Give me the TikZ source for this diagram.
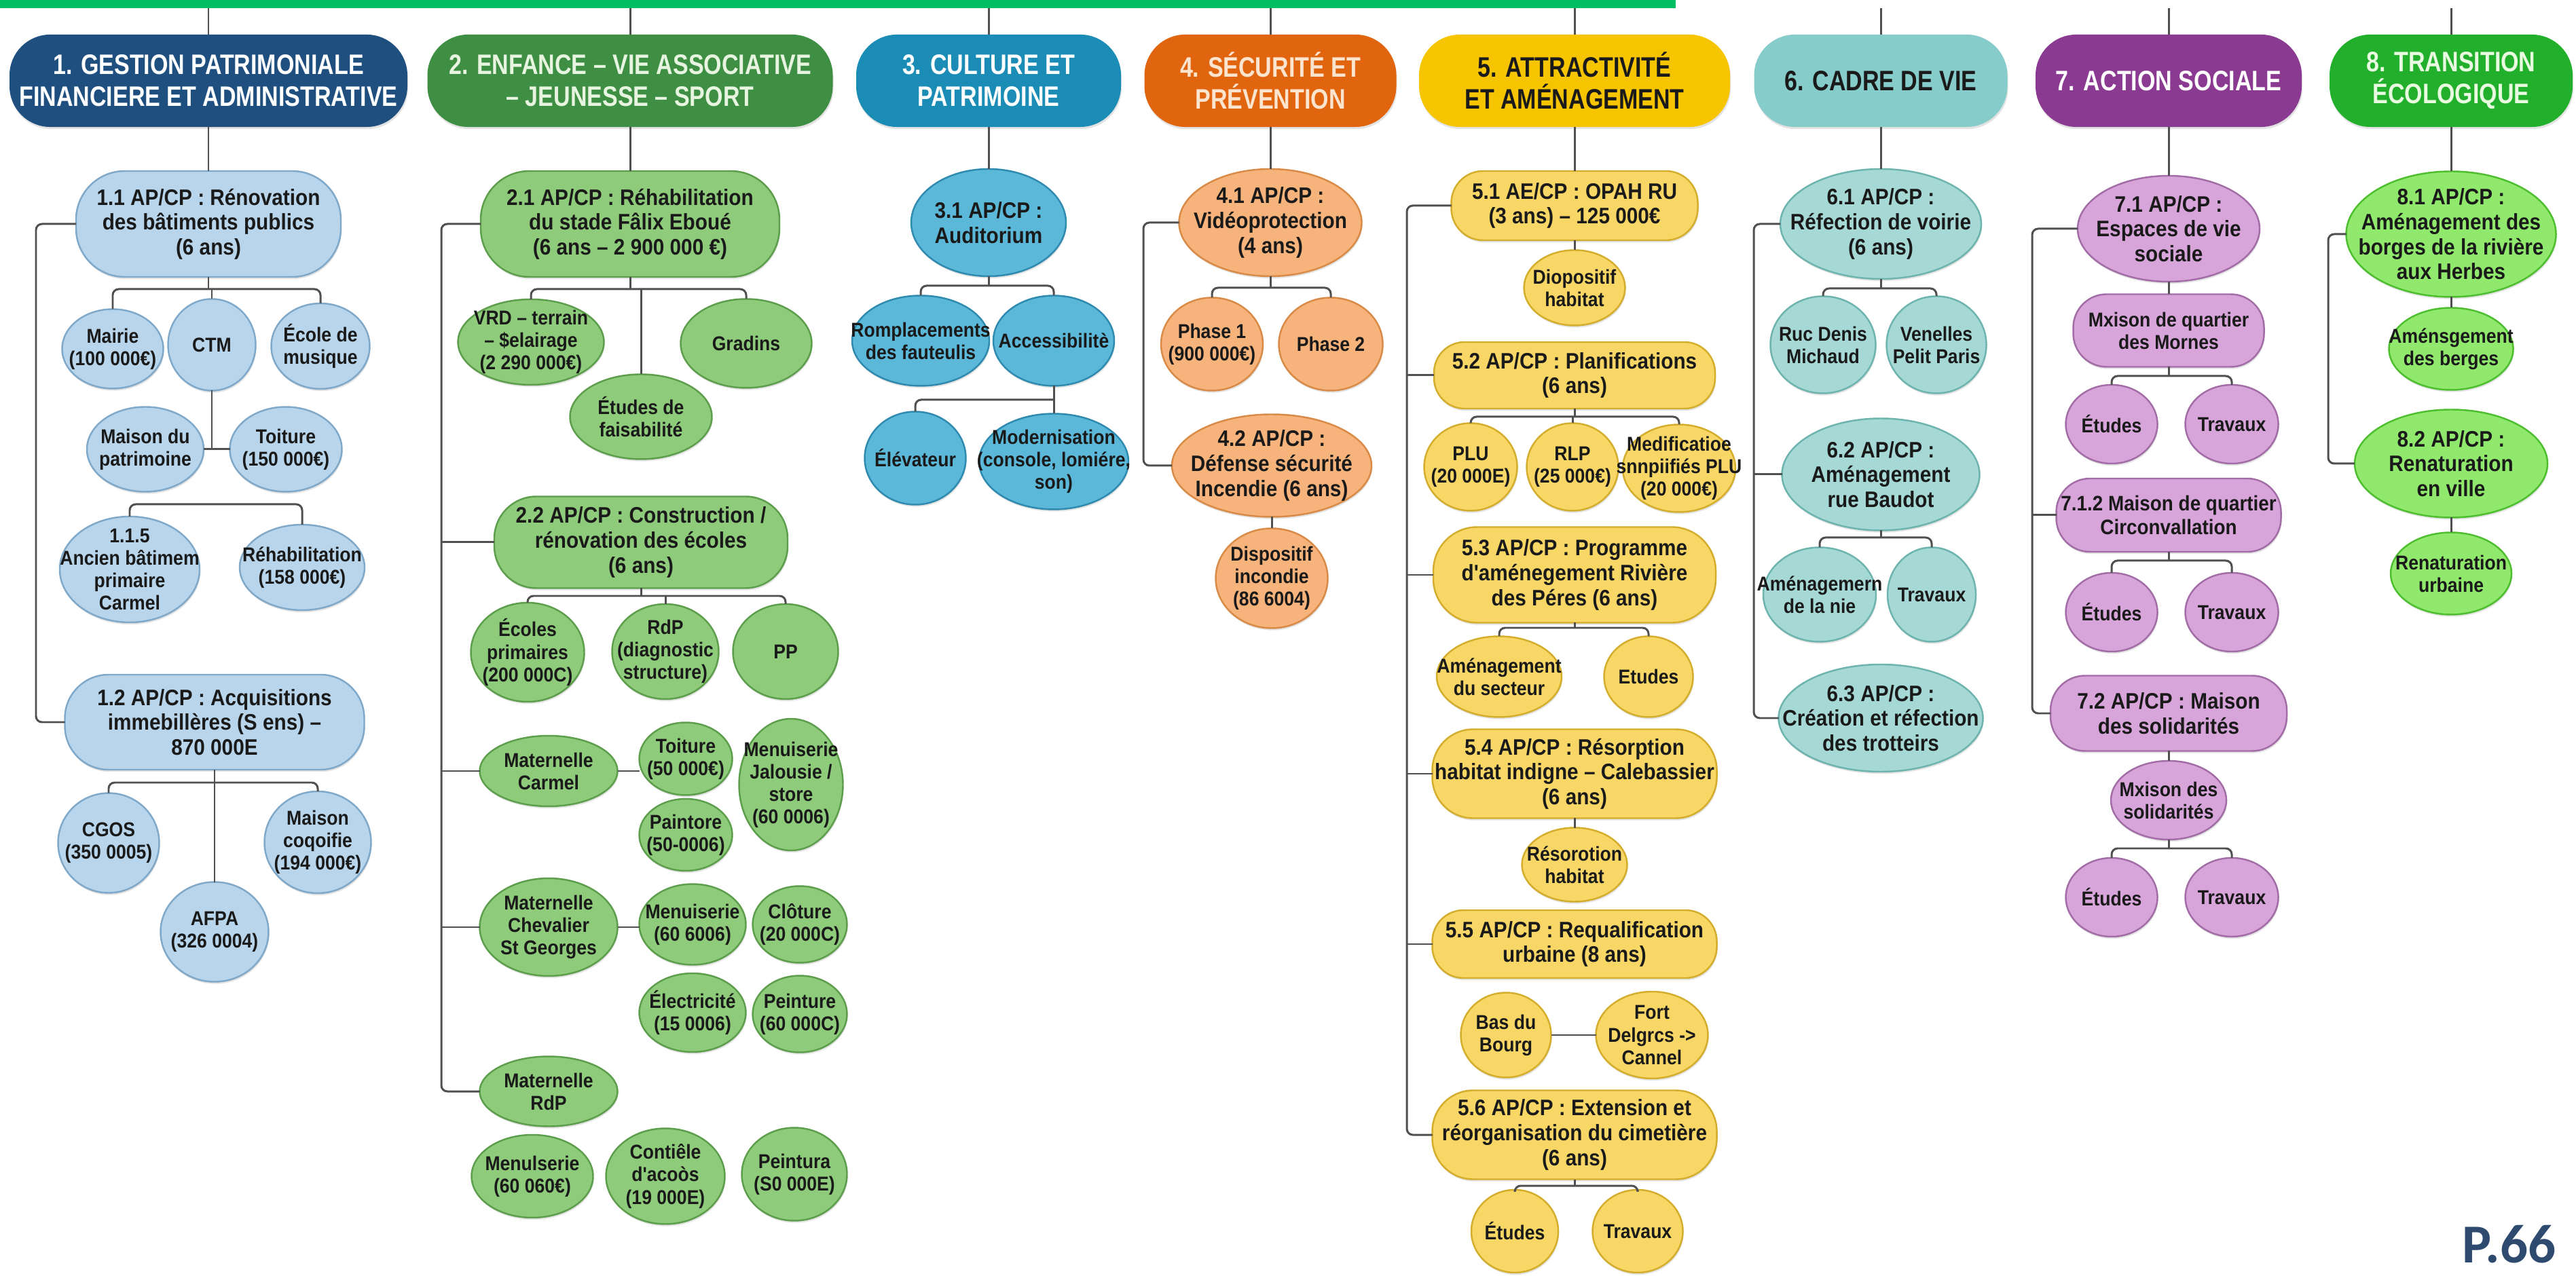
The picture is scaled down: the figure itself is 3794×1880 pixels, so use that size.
\documentclass[tikz,border=0pt]{standalone}
\usepackage{fontspec}
\setmainfont{Liberation Sans}
\newfontfamily\nf{Liberation Sans}[FakeStretch=0.9]
\newfontfamily\hf{Liberation Sans}[FakeStretch=0.82]
\newfontfamily\pf{Carlito}
\usetikzlibrary{shapes.geometric,shadows}
\definecolor{gbar}{HTML}{00BF63}
\definecolor{lineC}{HTML}{505050}
\definecolor{txt}{HTML}{1A1A1A}
\definecolor{pcol}{HTML}{2E4A6E}
\definecolor{c1f}{HTML}{B8D5EB}\definecolor{c1d}{HTML}{7FA8C9}
\definecolor{c2f}{HTML}{8ECB7B}\definecolor{c2d}{HTML}{5C9E4C}
\definecolor{c3f}{HTML}{5CB8D8}\definecolor{c3d}{HTML}{2E8AAE}
\definecolor{c4f}{HTML}{F6B37B}\definecolor{c4d}{HTML}{D98A47}
\definecolor{c5f}{HTML}{F8D766}\definecolor{c5d}{HTML}{D3AD2B}
\definecolor{c6f}{HTML}{A6D9D6}\definecolor{c6d}{HTML}{6DB3AE}
\definecolor{c7f}{HTML}{D8A5DB}\definecolor{c7d}{HTML}{A26DA6}
\definecolor{c8f}{HTML}{90E86C}\definecolor{c8d}{HTML}{4DBE2E}
\definecolor{h1c}{HTML}{1E4F7F}\definecolor{h2c}{HTML}{3E8E43}
\definecolor{h3c}{HTML}{1A8CB6}\definecolor{h4c}{HTML}{E1650E}
\definecolor{h5c}{HTML}{F6C500}\definecolor{h6c}{HTML}{86CCCA}
\definecolor{h7c}{HTML}{8B3A91}\definecolor{h8c}{HTML}{22B02C}
\definecolor{t2c}{HTML}{E6F4E0}\definecolor{t4c}{HTML}{FCE4CF}
\definecolor{t8c}{HTML}{E8FBE0}
\tikzset{
 conn/.style={draw=lineC,line width=0.85pt,rounded corners=2.5pt},
 shad/.style={drop shadow={opacity=0.22,shadow xshift=0.3pt,shadow yshift=-0.9pt}},
 nbox/.style={line width=0.7pt,shad,inner sep=0pt,outer sep=0pt},
 hdr/.style={rectangle,fill=#1,draw=none,shad,inner sep=0pt,outer sep=0pt,minimum height=1.36cm,rounded corners=0.6cm},
 hdrtxt/.style={font=\hf\bfseries\fontsize{11.8}{13.4}\selectfont,align=center,text=#1,inner sep=0pt},
 bigtxt/.style={font=\nf\bfseries\fontsize{9.4}{10.4}\selectfont,align=center,text=txt,inner sep=0pt},
 midtxt/.style={font=\nf\bfseries\fontsize{8.8}{10}\selectfont,align=center,text=txt,inner sep=0pt},
 smalltxt/.style={font=\nf\bfseries\fontsize{8.4}{9.4}\selectfont,align=center,text=txt,inner sep=0pt},
 k1/.style={fill=c1f,draw=c1d},k2/.style={fill=c2f,draw=c2d},
 k3/.style={fill=c3f,draw=c3d},k4/.style={fill=c4f,draw=c4d},
 k5/.style={fill=c5f,draw=c5d},k6/.style={fill=c6f,draw=c6d},
 k7/.style={fill=c7f,draw=c7d},k8/.style={fill=c8f,draw=c8d},
}
\newcommand\mkHD[6]{\node[hdr=#4,minimum width=#3*0.01cm] (#1) at (#2,119) {};
  \node[hdrtxt=#5] (#1t) at (#1) {#6};}
\newcommand\mkPL[7]{\node[nbox,#6,rectangle,minimum width=#4*0.01cm,minimum height=#5*0.01cm,rounded corners=#5*0.0046cm] (#1) at (#2,#3) {};
  \node[bigtxt] (#1t) at (#1) {#7};}
\newcommand\mkPM[7]{\node[nbox,#6,rectangle,minimum width=#4*0.01cm,minimum height=#5*0.01cm,rounded corners=#5*0.0046cm] (#1) at (#2,#3) {};
  \node[midtxt] (#1t) at (#1) {#7};}
\newcommand\mkPS[7]{\node[nbox,#6,rectangle,minimum width=#4*0.01cm,minimum height=#5*0.01cm,rounded corners=#5*0.0046cm] (#1) at (#2,#3) {};
  \node[smalltxt] (#1t) at (#1) {#7};}
\newcommand\mkEB[7]{\node[nbox,#6,ellipse,minimum width=#4*0.01cm,minimum height=#5*0.01cm] (#1) at (#2,#3) {};
  \node[bigtxt] (#1t) at (#1) {#7};}
\newcommand\mkES[7]{\node[nbox,#6,ellipse,minimum width=#4*0.01cm,minimum height=#5*0.01cm] (#1) at (#2,#3) {};
  \node[smalltxt] (#1t) at (#1) {#7};}
\begin{document}
\begin{tikzpicture}[x=0.01cm,y=-0.01cm]
\useasboundingbox (0,0) rectangle (3794,1880);
\clip (0,0) rectangle (3794,1880);
\fill[white] (0,0) rectangle (3794,1880);
\fill[gbar] (0,0) rectangle (2468,12);

% ---------- headers
\mkHD{h1}{307}{586}{h1c}{white}{1. GESTION PATRIMONIALE\\FINANCIERE ET ADMINISTRATIVE}
\mkHD{h2}{928}{597}{h2c}{t2c}{2. ENFANCE – VIE ASSOCIATIVE\\– JEUNESSE – SPORT}
\mkHD{h3}{1456}{390}{h3c}{white}{3. CULTURE ET\\PATRIMOINE}
\mkHD{h4}{1871}{371}{h4c}{t4c}{4. SÉCURITÉ ET\\PRÉVENTION}
\mkHD{h5}{2319}{458}{h5c}{txt}{5. ATTRACTIVITÉ\\ET AMÉNAGEMENT}
\mkHD{h6}{2770}{373}{h6c}{txt}{6. CADRE DE VIE}
\mkHD{h7}{3194}{392}{h7c}{white}{7. ACTION SOCIALE}
\mkHD{h8}{3610}{358}{h8c}{t8c}{8. TRANSITION\\ÉCOLOGIQUE}

% ---------- column 1
\mkPL{n11}{307}{330}{390}{156}{k1}{1.1 AP/CP : Rénovation\\des bâtiments publics\\(6 ans)}
\mkES{mairie}{166}{514}{149}{117}{k1}{Mairie\\(100 000€)}
\mkES{ctm}{312}{508}{129}{135}{k1}{CTM}
\mkES{ecole}{472}{510}{145}{126}{k1}{École de\\musique}
\mkES{maisonpat}{214}{662}{172}{125}{k1}{Maison du\\patrimoine}
\mkES{toit1}{421}{662}{165}{125}{k1}{Toiture\\(150 000€)}
\mkES{anc}{191}{839}{206}{156}{k1}{1.1.5\\Ancien bâtimem\\primaire\\Carmel}
\mkES{rehab}{445}{836}{184}{126}{k1}{Réhabilitation\\(158 000€)}
\mkPL{n12}{316}{1064}{441}{140}{k1}{1.2 AP/CP : Acquisitions\\immebillères (S ens) –\\870 000E}
\mkES{cgos}{160}{1242}{149}{147}{k1}{CGOS\\(350 0005)}
\mkES{afpa}{316}{1373}{159}{147}{k1}{AFPA\\(326 0004)}
\mkES{maisonc}{468}{1241}{157}{150}{k1}{Maison\\coqoifie\\(194 000€)}

% ---------- column 2
\mkPL{n21}{928}{330}{440}{156}{k2}{2.1 AP/CP : Réhabilitation\\du stade Fâlix Eboué\\(6 ans – 2 900 000 €)}
\mkES{vrd}{782}{504}{215}{126}{k2}{VRD – terrain\\– \$elairage\\(2 290 000€)}
\mkES{gradins}{1099}{506}{193}{131}{k2}{Gradins}
\mkES{etudesf}{944}{614}{209}{125}{k2}{Études de\\faisabilité}
\mkPL{n22}{944}{799}{432}{135}{k2}{2.2 AP/CP : Construction /\\rénovation des écoles\\(6 ans)}
\mkES{ecoles}{777}{961}{167}{146}{k2}{Écoles\\primaires\\(200 000C)}
\mkES{rdp}{980}{960}{157}{140}{k2}{RdP\\(diagnostic\\structure)}
\mkES{pp}{1157}{960}{155}{140}{k2}{PP}
\mkES{carmel}{808}{1136}{203}{104}{k2}{Maternelle\\Carmel}
\mkES{toit2}{1010}{1118}{137}{107}{k2}{Toiture\\(50 000€)}
\mkES{menjal}{1165}{1156}{153}{194}{k2}{Menuiserie\\Jalousie /\\store\\(60 0006)}
\mkES{paint}{1010}{1230}{137}{106}{k2}{Paintore\\(50-0006)}
\mkES{chev}{808}{1366}{203}{144}{k2}{Maternelle\\Chevalier\\St Georges}
\mkES{men2}{1020}{1362}{157}{119}{k2}{Menuiserie\\(60 6006)}
\mkES{clot}{1178}{1362}{139}{113}{k2}{Clôture\\(20 000C)}
\mkES{elec}{1020}{1492}{157}{116}{k2}{Électricité\\(15 0006)}
\mkES{peint}{1178}{1494}{139}{113}{k2}{Peinture\\(60 000C)}
\mkES{matrdp}{808}{1608}{203}{103}{k2}{Maternelle\\RdP}
\mkES{menu3}{784}{1733}{179}{122}{k2}{Menulserie\\(60 060€)}
\mkES{cont}{980}{1733}{175}{141}{k2}{Contiêle\\d'acoòs\\(19 000E)}
\mkES{peint2}{1170}{1730}{155}{137}{k2}{Peintura\\(S0 000E)}

% ---------- column 3
\mkEB{n31}{1456}{328}{228}{158}{k3}{3.1 AP/CP :\\Auditorium}
\mkES{romp}{1356}{502}{202}{133}{k3}{Romplacements\\des fauteulis}
\mkES{access}{1552}{502}{178}{133}{k3}{Accessibilitè}
\mkES{elev}{1348}{675}{149}{137}{k3}{Élévateur}
\mkES{modern}{1552}{680}{220}{141}{k3}{Modernisation\\(console, lomiére,\\son)}

% ---------- column 4
\mkEB{n41}{1871}{328}{269}{158}{k4}{4.1 AP/CP :\\Vidéoprotection\\(4 ans)}
\mkES{ph1}{1785}{507}{150}{137}{k4}{Phase 1\\(900 000€)}
\mkES{ph2}{1960}{507}{153}{137}{k4}{Phase 2}
\mkEB{n42}{1873}{686}{294}{151}{k4}{4.2 AP/CP :\\Défense sécurité\\Incendie (6 ans)}
\mkES{disp}{1873}{852}{165}{147}{k4}{Dispositif\\incondie\\(86 6004)}

% ---------- column 5
\mkPL{n51}{2319}{303}{363}{102}{k5}{5.1 AE/CP : OPAH RU\\(3 ans) – 125 000€}
\mkES{diop}{2319}{424}{149}{111}{k5}{Diopositif\\habitat}
\mkPL{n52}{2319}{553}{414}{98}{k5}{5.2 AP/CP : Planifications\\(6 ans)}
\mkES{plu}{2166}{688}{137}{129}{k5}{PLU\\(20 000E)}
\mkES{rlp}{2316}{688}{135}{129}{k5}{RLP\\(25 000€)}
\mkES{medif}{2473}{690}{166}{129}{k5}{Medificatioe\\snnpiifiés PLU\\(20 000€)}
\mkPL{n53}{2319}{847}{416}{141}{k5}{5.3 AP/CP : Programme\\d'aménegement Rivière\\des Péres (6 ans)}
\mkES{amsec}{2208}{997}{184}{119}{k5}{Aménagement\\du secteur}
\mkES{etud5}{2428}{997}{131}{119}{k5}{Etudes}
\mkPL{n54}{2319}{1140}{419}{131}{k5}{5.4 AP/CP : Résorption\\habitat indigne – Calebassier\\(6 ans)}
\mkES{resor}{2319}{1274}{155}{109}{k5}{Résorotion\\habitat}
\mkPL{n55}{2319}{1391}{419}{100}{k5}{5.5 AP/CP : Requalification\\urbaine (8 ans)}
\mkES{bas}{2218}{1525}{133}{125}{k5}{Bas du\\Bourg}
\mkES{fort}{2433}{1525}{165}{128}{k5}{Fort\\Delgrcs ->\\Cannel}
\mkPL{n56}{2319}{1672}{419}{131}{k5}{5.6 AP/CP : Extension et\\réorganisation du cimetière\\(6 ans)}
\mkES{etud56}{2231}{1814}{128}{122}{k5}{Études}
\mkES{trav56}{2412}{1814}{133}{122}{k5}{Travaux}

% ---------- column 6
\mkEB{n61}{2770}{330}{296}{162}{k6}{6.1 AP/CP :\\Réfection de voirie\\(6 ans)}
\mkES{ruc}{2685}{508}{155}{143}{k6}{Ruc Denis\\Michaud}
\mkES{ven}{2852}{508}{147}{143}{k6}{Venelles\\Pelit Paris}
\mkEB{n62}{2770}{699}{291}{165}{k6}{6.2 AP/CP :\\Aménagement\\rue Baudot}
\mkES{amr}{2680}{876}{166}{139}{k6}{Aménagemern\\de la nie}
\mkES{trav6}{2845}{876}{130}{139}{k6}{Travaux}
\mkEB{n63}{2770}{1058}{301}{158}{k6}{6.3 AP/CP :\\Création et réfection\\des trotteirs}

% ---------- column 7
\mkEB{n71}{3194}{337}{268}{156}{k7}{7.1 AP/CP :\\Espaces de vie\\sociale}
\mkPS{mxm}{3194}{487}{281}{107}{k7}{Mxison de quartier\\des Mornes}
\mkES{et71}{3110}{625}{135}{116}{k7}{Études}
\mkES{tr71}{3287}{625}{137}{116}{k7}{Travaux}
\mkPM{n712}{3194}{759}{331}{108}{k7}{7.1.2 Maison de quartier\\Circonvallation}
\mkES{et72}{3110}{902}{135}{116}{k7}{Études}
\mkES{tr72}{3287}{902}{137}{116}{k7}{Travaux}
\mkPL{n72}{3194}{1051}{348}{111}{k7}{7.2 AP/CP : Maison\\des solidarités}
\mkES{mxs}{3194}{1179}{170}{116}{k7}{Mxison des\\solidarités}
\mkES{et73}{3110}{1322}{135}{116}{k7}{Études}
\mkES{tr73}{3287}{1322}{137}{116}{k7}{Travaux}

% ---------- column 8
\mkEB{n81}{3610}{345}{309}{185}{k8}{8.1 AP/CP :\\Aménagement des\\borges de la rivière\\aux Herbes}
\mkES{amb}{3610}{514}{183}{121}{k8}{Aménsgement\\des berges}
\mkEB{n82}{3610}{683}{284}{159}{k8}{8.2 AP/CP :\\Renaturation\\en ville}
\mkES{ren}{3610}{845}{178}{121}{k8}{Renaturation\\urbaine}

% ---------- page number
\node[font=\pf\bfseries\fontsize{23}{23}\selectfont,text=pcol,anchor=base west,inner sep=0pt] (pg) at (3626,1860) {P.66};

% ---------- connectors
\coordinate (t1) at (307,12); \coordinate (t2) at (928,12);
\coordinate (t3) at (1456,12); \coordinate (t4) at (1871,12);
\coordinate (t5) at (2319,12); \coordinate (t6) at (2770,12);
\coordinate (t7) at (3194,12); \coordinate (t8) at (3610,12);
\foreach \i in {1,...,8} {\draw[conn] (t\i) -- (h\i.north);}

% col 1
\draw[conn] (h1.south) -- (n11.north);
\coordinate (b11) at (307,426);
\draw[conn] (n11.south) -- (b11);
\draw[conn] (mairie.north) |- (b11) -| (ecole.north);
\draw[conn] (ctm.north) -- (ctm.north |- b11);
\draw[conn] (ctm.south) -- (ctm.south |- maisonpat.east);
\draw[conn] (maisonpat.east) -- (toit1.west);
\coordinate (b12) at (318,743);
\draw[conn] (anc.north) |- (b12) -| (rehab.north);
\coordinate (lb1) at (53,700);
\draw[conn] (n11.west) -| (lb1) |- (n12.west);
\coordinate (b13) at (316,1153);
\draw[conn] (n12.south) -- (afpa.north);
\draw[conn] (cgos.north) |- (b13) -| (maisonc.north);

% col 2
\draw[conn] (h2.south) -- (n21.north);
\coordinate (b21) at (928,426);
\draw[conn] (n21.south) -- (b21);
\draw[conn] (vrd.north) |- (b21) -| (gradins.north);
\draw[conn] (etudesf.north) -- (etudesf.north |- b21);
\coordinate (lb2) at (650,900);
\draw[conn] (n21.west) -| (lb2) |- (matrdp.west);
\draw[conn] (n22.west) -- (n22.west -| lb2);
\draw[conn] (carmel.west) -- (carmel.west -| lb2);
\draw[conn] (chev.west) -- (chev.west -| lb2);
\coordinate (b22) at (944,878);
\draw[conn] (n22.south) -- (b22);
\draw[conn] (ecoles.north) |- (b22) -| (pp.north);
\draw[conn] (rdp.north) -- (rdp.north |- b22);
\draw[conn] (carmel.east) -- (carmel.east -| toit2.west);
\draw[conn] (chev.east) -- (chev.east -| men2.west);

% col 3
\draw[conn] (h3.south) -- (n31.north);
\coordinate (b31) at (1456,421);
\draw[conn] (n31.south) -- (b31);
\draw[conn] (romp.north) |- (b31) -| (access.north);
\draw[conn] (access.south) -- (modern.north);
\coordinate (b32) at (1552,589);
\draw[conn] (elev.north) |- (b32);

% col 4
\draw[conn] (h4.south) -- (n41.north);
\coordinate (b41) at (1871,424);
\draw[conn] (n41.south) -- (b41);
\draw[conn] (ph1.north) |- (b41) -| (ph2.north);
\coordinate (lb4) at (1684,500);
\draw[conn] (n41.west) -| (lb4) |- (n42.west);
\draw[conn] (n42.south) -- (disp.north);

% col 5
\draw[conn] (h5.south) -- (n51.north);
\draw[conn] (n51.south) -- (diop.north);
\coordinate (b52) at (2319,614);
\draw[conn] (n52.south) -- (b52);
\draw[conn] (plu.north) |- (b52) -| (medif.north);
\draw[conn] (rlp.north) -- (rlp.north |- b52);
\coordinate (b53) at (2319,925);
\draw[conn] (n53.south) -- (b53);
\draw[conn] (amsec.north) |- (b53) -| (etud5.north);
\draw[conn] (n54.south) -- (resor.north);
\draw[conn] (bas.east) -- (fort.west);
\coordinate (b56) at (2319,1747);
\draw[conn] (n56.south) -- (b56);
\draw[conn] (etud56.north) |- (b56) -| (trav56.north);
\coordinate (lb5) at (2072,1000);
\draw[conn] (n51.west) -| (lb5) |- (n56.west);
\draw[conn] (n52.west) -- (n52.west -| lb5);
\draw[conn] (n53.west) -- (n53.west -| lb5);
\draw[conn] (n54.west) -- (n54.west -| lb5);
\draw[conn] (n55.west) -- (n55.west -| lb5);

% col 6
\draw[conn] (h6.south) -- (n61.north);
\coordinate (b61) at (2770,425);
\draw[conn] (n61.south) -- (b61);
\draw[conn] (ruc.north) |- (b61) -| (ven.north);
\coordinate (b62) at (2770,792);
\draw[conn] (n62.south) -- (b62);
\draw[conn] (amr.north) |- (b62) -| (trav6.north);
\coordinate (lb6) at (2583,700);
\draw[conn] (n61.west) -| (lb6) |- (n63.west);
\draw[conn] (n62.west) -- (n62.west -| lb6);

% col 7
\draw[conn] (h7.south) -- (n71.north);
\draw[conn] (n71.south) -- (mxm.north);
\coordinate (b71) at (3194,554);
\draw[conn] (mxm.south) -- (b71);
\draw[conn] (et71.north) |- (b71) -| (tr71.north);
\coordinate (b72) at (3194,826);
\draw[conn] (n712.south) -- (b72);
\draw[conn] (et72.north) |- (b72) -| (tr72.north);
\draw[conn] (n72.south) -- (mxs.north);
\coordinate (b73) at (3194,1250);
\draw[conn] (mxs.south) -- (b73);
\draw[conn] (et73.north) |- (b73) -| (tr73.north);
\coordinate (lb7) at (2993,700);
\draw[conn] (n71.west) -| (lb7) |- (n72.west);
\draw[conn] (n712.west) -- (n712.west -| lb7);

% col 8
\draw[conn] (h8.south) -- (n81.north);
\draw[conn] (n81.south) -- (amb.north);
\draw[conn] (n82.south) -- (ren.north);
\coordinate (lb8) at (3429,500);
\draw[conn] (n81.west) -| (lb8) |- (n82.west);
\end{tikzpicture}
\end{document}
